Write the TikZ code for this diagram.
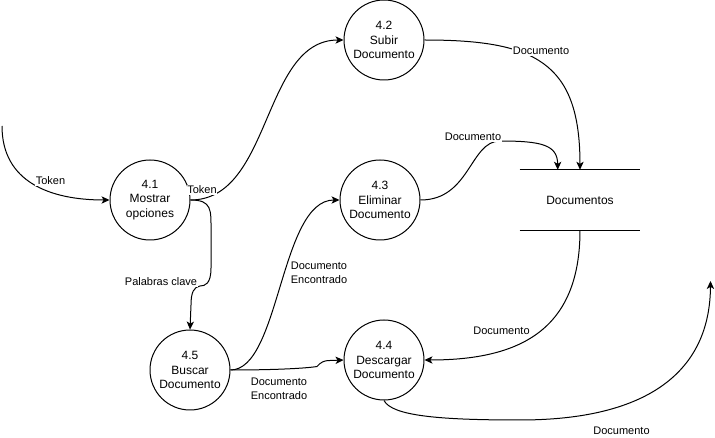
\documentclass[tikz,border=0pt]{standalone}
\usepackage{fontspec}
\setmainfont{Liberation Sans}
\usetikzlibrary{arrows.meta}
\begin{document}
\begin{tikzpicture}[x=0.75pt,y=-0.75pt,
  proc/.style={circle,draw,line width=0.75pt,minimum size=60pt,inner sep=0pt,align=center,font=\fontsize{9}{10.8}\selectfont},
  storebox/.style={minimum width=90pt,minimum height=45pt,inner sep=0pt,font=\fontsize{9}{10.8}\selectfont},
  lbl/.style={fill=white,inner sep=0.6pt,align=left,font=\fontsize{8.25}{10.5}\selectfont},
  flow/.style={line width=0.75pt,-{Stealth[length=6pt,width=5.5pt,inset=1.6pt]}}]
\useasboundingbox (0,0) rectangle (715,438);
% processes
\node[proc] (n41) at (150,200) {4.1\\Mostrar\\opciones};
\node[proc] (n42) at (384,40) {4.2\\Subir\\Documento};
\node[proc] (n43) at (380,200) {4.3\\Eliminar\\Documento};
\node[proc] (n44) at (384,360) {4.4\\Descargar\\Documento};
\node[proc] (n45) at (190,370) {4.5\\Buscar\\Documento};
% data store
\node[storebox] (store) at (580,200) {Documentos};
\draw[line width=0.75pt] (store.north west) -- (store.north east);
\draw[line width=0.75pt] (store.south west) -- (store.south east);
\coordinate (tin) at (2,126);
\coordinate (tout) at (710.5,281);
% flows
\draw[flow] (tin) .. controls (2,182) and (50,200) .. (n41.west);
\draw[flow] (n41.east) .. controls (272,200) and (262,40) .. (n42.west);
\draw[flow] (n41.east) .. controls (212,200) and (211,210) .. (211,230) -- (211,268)
  .. controls (211,284) and (205,286) .. (200,286) .. controls (194,287) and (191,292) .. (191,305) -- (n45.north);
\draw[flow] (n42.east) .. controls (535,40) and (580,62) .. (store.north);
\draw[flow] (n43.east) .. controls (470,200) and (470,141) .. (500,141)
  .. controls (542,141) and (557.5,145) .. ([xshift=-16.7pt]store.north);
\draw[flow] (store.south) .. controls (580,330) and (520,360) .. (n44.east);
\draw[flow] (n45.east) .. controls (280,370) and (280,200) .. (n43.west);
\draw[flow] (n45.east) .. controls (280,370) and (308,368) .. (317,366.5)
  .. controls (321,362) and (324,360.5) .. (330,360.5) -- (n44.west);
\draw[flow] (n44.south) .. controls (392,416) and (440,420) .. (520,420)
  .. controls (650,420) and (710,370) .. (tout);
% labels
\node[lbl] (l1) at (50.5,181) {Token};
\node[lbl] (l2) at (202,190) {Token};
\node[lbl] (l3) at (161,282) {Palabras clave};
\node[lbl] (l4) at (541,51) {Documento};
\node[lbl] (l5) at (473,137) {Documento};
\node[lbl] (l6) at (319,273) {Documento\\Encontrado};
\node[lbl] (l7) at (279,389) {Documento\\Encontrado};
\node[lbl] (l8) at (501.5,331) {Documento};
\node[lbl] (l9) at (621.5,431) {Documento};
\end{tikzpicture}
\end{document}
